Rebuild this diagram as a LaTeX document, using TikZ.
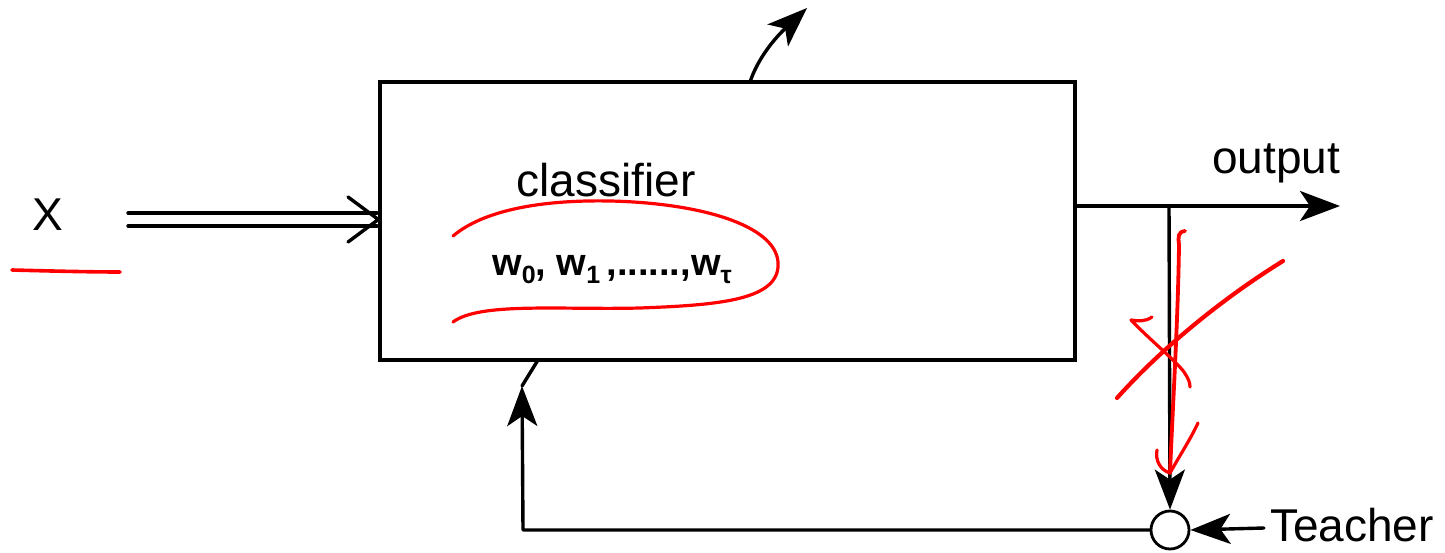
\documentclass[tikz,border=0pt]{standalone}
\usepackage{fontspec}
\setmainfont{Liberation Sans}
\usetikzlibrary{arrows.meta}
\tikzset{
  wire/.style={line width=3.4pt, line cap=round, line join=round},
  tip/.style={-{Stealth[length=40pt,width=30pt,inset=10pt]}},
  ink/.style={red, line width=3.2pt, line cap=round, line join=round},
  lbl/.style={inner sep=0pt, font=\fontsize{46}{52}\selectfont},
}
\begin{document}
\begin{tikzpicture}[x=1pt,y=-1pt]
\useasboundingbox (0,0) rectangle (1445,553);

% classifier block
\node[draw, line width=3.4pt, minimum width=695pt, minimum height=278pt, inner sep=0pt]
  (box) at (727.5,221) {};
\node[lbl] (cls) at (606,180) {classifier};
\node[lbl, font=\fontsize{38}{44}\selectfont\bfseries] (wts) at (612,270)
  {w\raisebox{-8pt}{\fontsize{25}{30}\selectfont 0}, w\raisebox{-8pt}{\fontsize{25}{30}\selectfont 1}\,,......,w\raisebox{-8pt}{\fontsize{25}{30}\selectfont τ}};

% input X with double arrow
\node[lbl] (x) at (48,215) {X};
\coordinate (inA) at (128,213);
\coordinate (inB) at (128,226);
\coordinate (inAe) at (377,213);
\coordinate (inBe) at (377,226);
\coordinate (inTip) at (box.west |- 0,219.5);
\draw[wire] (inA) -- (inAe);
\draw[wire] (inB) -- (inBe);
\draw[wire] (348,197) -- (inTip) -- (348,242);

% curved arrow leaving the top
\coordinate (topOut) at (750,82);
\coordinate (topEnd) at (807,8);
\draw[wire, tip] (topOut) .. controls (758,58) and (775,38) .. (topEnd);

% output
\coordinate (outStart) at (box.east |- 0,206);
\coordinate (outEnd) at (1340,206);
\coordinate (split) at (1169,206);
\draw[wire, tip] (outStart) -- (outEnd);
\node[lbl] (outlbl) at (1276,163) {output};

% comparator and teacher
\node[draw, circle, line width=2.8pt, minimum size=38pt, inner sep=0pt] (cmp) at (1170,530) {};
\draw[wire, tip] (split) -- (cmp.north);
\node[lbl, anchor=west] (teach) at (1270,525) {Teacher};
\coordinate (teachIn) at (1264,528);
\draw[wire, tip] (teachIn) -- (cmp.east);

% feedback path
\coordinate (fbCorner) at (523,530);
\coordinate (fbTip) at (522,386);
\coordinate (fbTop) at (538,360);
\draw[wire, tip] (cmp.west) -- (fbCorner) -- (fbTip);
\draw[wire] (fbTip) -- (fbTop);

% red annotations
\draw[ink, line width=3.6pt] (12,270) .. controls (50,271) and (90,272) .. (120,272);
\draw[ink] (453,236) .. controls (490,205) and (560,200) .. (610,201)
  .. controls (700,203) and (775,225) .. (778,262)
  .. controls (781,300) and (720,305) .. (640,308)
  .. controls (560,310) and (480,302) .. (453,322);
\draw[ink, line width=3.8pt] (1185,231) .. controls (1178,232) and (1178,236) .. (1179,245)
  .. controls (1178,320) and (1173,400) .. (1170,473);
\draw[ink] (1157,450) .. controls (1155,460) and (1160,470) .. (1170,473)
  .. controls (1180,455) and (1190,440) .. (1198,423);
\draw[ink, line width=4.2pt] (1117,398) .. controls (1160,350) and (1220,300) .. (1283,261);
\draw[ink] (1152,317) .. controls (1145,322) and (1138,321) .. (1131,320)
  .. controls (1150,340) and (1175,360) .. (1184,372)
  .. controls (1188,378) and (1190,382) .. (1190,387);
\end{tikzpicture}
\end{document}
